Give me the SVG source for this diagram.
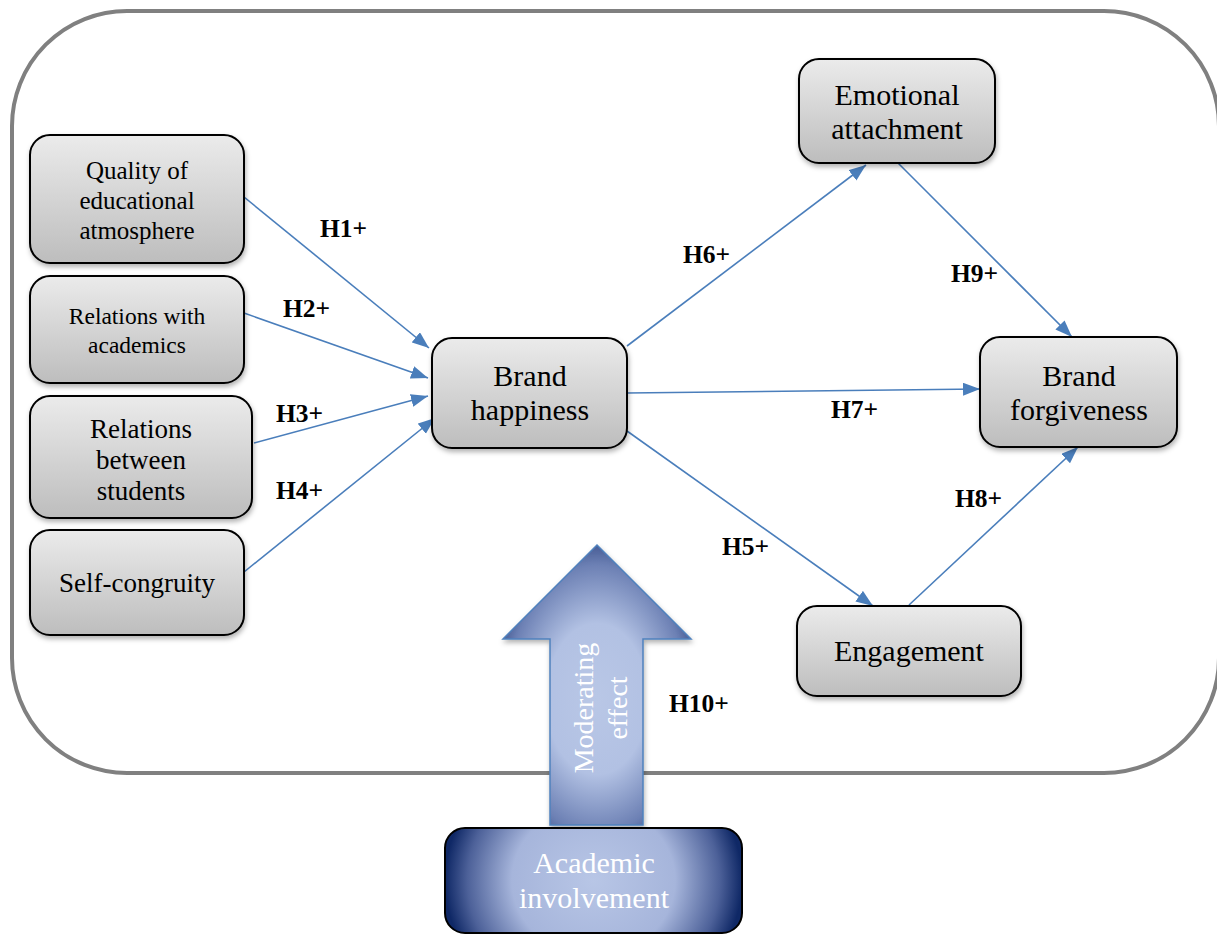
<svg xmlns="http://www.w3.org/2000/svg" width="1217" height="934" viewBox="0 0 1217 934">
<style>
.node rect{fill:url(#gGray);stroke:#000;stroke-width:2;filter:url(#sh)}
.t{font-family:"Liberation Serif","DejaVu Serif",serif;text-anchor:middle;fill:#000}
.lbl{font-family:"Liberation Serif","DejaVu Serif",serif;font-weight:bold;font-size:25.5px;fill:#000}
.conn line{stroke:#4a7ebb;stroke-width:1.6;marker-end:url(#ah)}
.w{fill:#fff;font-family:"Liberation Serif","DejaVu Serif",serif;text-anchor:middle}
</style>
<defs>
<linearGradient id="gGray" x1="0" y1="0" x2="0" y2="1">
<stop offset="0" stop-color="#ebebeb"/>
<stop offset="1" stop-color="#bdbdbd"/>
</linearGradient>
<radialGradient id="gArrow" cx="0.5" cy="0.55" r="0.6">
<stop offset="0" stop-color="#b9c7e6"/>
<stop offset="0.45" stop-color="#b2c1e3"/>
<stop offset="0.8" stop-color="#6c80b4"/>
<stop offset="1" stop-color="#2d427e"/>
</radialGradient>
<radialGradient id="gAcad" cx="0.5" cy="0.5" r="0.5" gradientTransform="translate(0.5 0.5) scale(1 2.6) translate(-0.5 -0.5)">
<stop offset="0" stop-color="#b8c6e6"/>
<stop offset="0.55" stop-color="#a6b5db"/>
<stop offset="0.85" stop-color="#4d6199"/>
<stop offset="1" stop-color="#0f2866"/>
</radialGradient>
<filter id="sh" x="-10%" y="-10%" width="125%" height="130%">
<feDropShadow dx="1" dy="3" stdDeviation="2.5" flood-color="#000" flood-opacity="0.3"/>
</filter>
<marker id="ah" markerUnits="userSpaceOnUse" markerWidth="18" markerHeight="14" refX="17" refY="6.5" orient="auto">
<path d="M0,0 L17,6.5 L0,13 z" fill="#4a7ebb"/>
</marker>
</defs>
<rect width="1217" height="934" fill="#fff"/>
<rect id="frame" x="12" y="11" width="1207" height="762" rx="115" ry="115" fill="none" stroke="#808080" stroke-width="4"/>

<g id="connectors" class="conn">
<line x1="244" y1="197" x2="429" y2="348"/>
<line x1="244" y1="313" x2="428" y2="378"/>
<line x1="254" y1="443" x2="428" y2="396"/>
<line x1="244" y1="572" x2="435" y2="418"/>
<line x1="627" y1="346" x2="866" y2="165"/>
<line x1="627" y1="393" x2="980" y2="389"/>
<line x1="627" y1="431" x2="873" y2="606"/>
<line x1="909" y1="605" x2="1078" y2="447"/>
<line x1="898" y1="163" x2="1072" y2="337"/>
</g>

<g id="labels">
<text class="lbl" x="320" y="237">H1+</text>
<text class="lbl" x="283" y="317">H2+</text>
<text class="lbl" x="276" y="422">H3+</text>
<text class="lbl" x="276" y="499">H4+</text>
<text class="lbl" x="722" y="555">H5+</text>
<text class="lbl" x="683" y="263">H6+</text>
<text class="lbl" x="831" y="418">H7+</text>
<text class="lbl" x="955" y="507">H8+</text>
<text class="lbl" x="951" y="282">H9+</text>
<text class="lbl" x="669" y="712">H10+</text>
</g>

<g id="n-quality" class="node">
<rect x="30" y="135" width="214" height="128" rx="20"/>
<text class="t" font-size="25" x="137"><tspan x="137" y="179">Quality of</tspan><tspan x="137" y="209">educational</tspan><tspan x="137" y="239">atmosphere</tspan></text>
</g>
<g id="n-academics" class="node">
<rect x="30" y="276" width="214" height="107" rx="20"/>
<text class="t" font-size="23.5"><tspan x="137" y="324">Relations with</tspan><tspan x="137" y="353">academics</tspan></text>
</g>
<g id="n-students" class="node">
<rect x="30" y="396" width="222" height="122" rx="20"/>
<text class="t" font-size="27"><tspan x="141" y="438">Relations</tspan><tspan x="141" y="469">between</tspan><tspan x="141" y="500">students</tspan></text>
</g>
<g id="n-self" class="node">
<rect x="30" y="530" width="214" height="105" rx="20"/>
<text class="t" font-size="27"><tspan x="137" y="592">Self-congruity</tspan></text>
</g>
<g id="n-happiness" class="node">
<rect x="432" y="338" width="195" height="110" rx="20"/>
<text class="t" font-size="30"><tspan x="530" y="386">Brand</tspan><tspan x="530" y="420">happiness</tspan></text>
</g>
<g id="n-emotional" class="node">
<rect x="799" y="59" width="196" height="104" rx="20"/>
<text class="t" font-size="30"><tspan x="897" y="105">Emotional</tspan><tspan x="897" y="139">attachment</tspan></text>
</g>
<g id="n-forgiveness" class="node">
<rect x="980" y="337" width="197" height="110" rx="20"/>
<text class="t" font-size="30"><tspan x="1079" y="386">Brand</tspan><tspan x="1079" y="420">forgiveness</tspan></text>
</g>
<g id="n-engagement" class="node">
<rect x="797" y="606" width="224" height="90" rx="20"/>
<text class="t" font-size="30"><tspan x="909" y="661">Engagement</tspan></text>
</g>

<g id="moderating-arrow">
<path d="M597,545 L691,639 L643,639 L643,825 L550,825 L550,639 L503,639 Z" fill="url(#gArrow)" stroke="#4f81bd" stroke-width="1.5" filter="url(#sh)"/>
<text class="w" font-size="28" transform="translate(593,708) rotate(-90)">Moderating</text>
<text class="w" font-size="28" transform="translate(627,708) rotate(-90)">effect</text>
</g>

<g id="n-academic-involvement">
<rect x="445" y="828" width="297" height="105" rx="20" fill="url(#gAcad)" stroke="#000" stroke-width="2"/>
<text class="w" font-size="30"><tspan x="594" y="873">Academic</tspan><tspan x="594" y="908">involvement</tspan></text>
</g>
</svg>
